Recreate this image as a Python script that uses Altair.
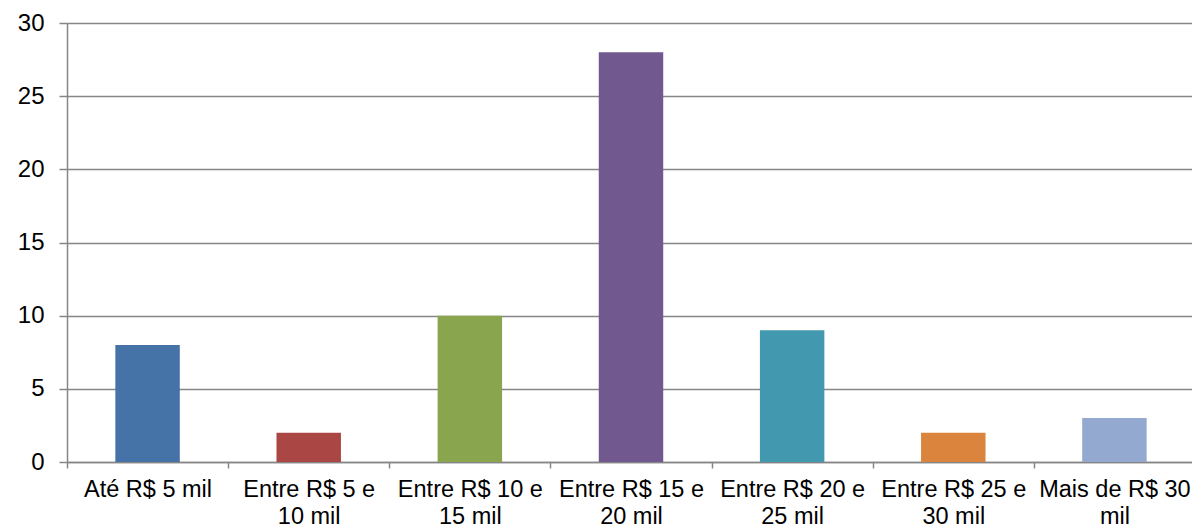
import altair as alt
import pandas as pd

categories = [
    "Até R$ 5 mil",
    "Entre R$ 5 e\n10 mil",
    "Entre R$ 10 e\n15 mil",
    "Entre R$ 15 e\n20 mil",
    "Entre R$ 20 e\n25 mil",
    "Entre R$ 25 e\n30 mil",
    "Mais de R$ 30\nmil",
]
values = [8, 2, 10, 28, 9, 2, 3]
colors = ["#4572A7", "#AA4643", "#89A54E", "#71588F", "#4198AF", "#DB843D", "#93A9CF"]
y_ticks = [0, 5, 10, 15, 20, 25, 30]

df = pd.DataFrame({"faixa": categories, "valor": values})

FONT = "Liberation Sans"
GRAY = "#868686"

chart = alt.Chart(df).mark_bar(width=alt.RelativeBandSize(0.4)).encode(
    x=alt.X(
        "faixa:N",
        sort=None,
        title=None,
        scale=alt.Scale(paddingInner=0, paddingOuter=0),
        axis=alt.Axis(
            labelAngle=0,
            labelExpr="split(datum.label, '\\n')",
            labelFont=FONT,
            labelFontSize=23.5,
            labelColor="black",
            labelLineHeight=27,
            labelPadding=9,
            labelLimit=0,
            tickBand="extent",
            tickSize=6,
            tickColor=GRAY,
            tickWidth=1.5,
            domainColor=GRAY,
            domainWidth=1.5,
            grid=False,
        ),
    ),
    y=alt.Y(
        "valor:Q",
        title=None,
        scale=alt.Scale(domain=[0, 30], nice=False),
        axis=alt.Axis(
            values=y_ticks,
            labelFont=FONT,
            labelFontSize=24,
            labelColor="black",
            labelPadding=15,
            tickSize=8,
            tickColor=GRAY,
            tickWidth=1.5,
            domainColor=GRAY,
            domainWidth=1.5,
            gridColor=GRAY,
            gridWidth=1.5,
        ),
    ),
    color=alt.Color(
        "faixa:N",
        sort=None,
        scale=alt.Scale(domain=categories, range=colors),
        legend=None,
    ),
).properties(
    width=1128,
    height=439,
    autosize=alt.AutoSizeParams(type="none"),
    padding={"left": 59, "top": 15, "right": -3, "bottom": 69},
).configure_view(stroke=None)

chart.save("out.html", embed_options={"renderer": "svg", "actions": False})
